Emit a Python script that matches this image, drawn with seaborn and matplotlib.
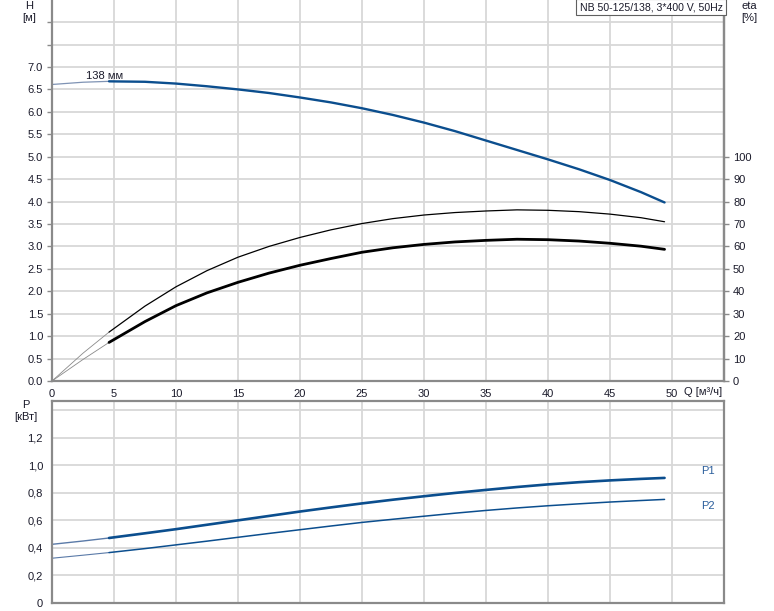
import numpy as np
import pandas as pd
import matplotlib
matplotlib.use("Agg")
import matplotlib.pyplot as plt
import seaborn as sns

# ---- data ----
q = [0, 2.5, 4.6, 7.5, 10, 12.5, 15, 17.5, 20, 22.5, 25, 27.5, 30, 32.5, 35,
     37.5, 40, 42.5, 45, 47.5, 49.4]
head = [6.61, 6.66, 6.68, 6.67, 6.63, 6.57, 6.50, 6.42, 6.32, 6.21, 6.08, 5.93,
        5.76, 5.57, 5.36, 5.15, 4.94, 4.72, 4.48, 4.21, 3.98]
eta_pump = [0, 12.4, 21.8, 33.4, 42.0, 49.2, 55.2, 60.0, 64.0, 67.4, 70.2, 72.4,
            74.0, 75.1, 75.8, 76.3, 76.1, 75.5, 74.4, 72.8, 71.0]
eta_total = [0, 9.6, 17.2, 26.5, 33.6, 39.3, 44.0, 48.1, 51.6, 54.6, 57.4, 59.4,
             60.9, 62.0, 62.7, 63.2, 63.0, 62.4, 61.4, 60.1, 58.7]
p1 = [0.426, 0.450, 0.472, 0.506, 0.536, 0.568, 0.600, 0.632, 0.664, 0.694, 0.723,
      0.750, 0.775, 0.799, 0.821, 0.842, 0.861, 0.877, 0.890, 0.901, 0.908]
p2 = [0.325, 0.347, 0.366, 0.395, 0.422, 0.449, 0.477, 0.505, 0.532, 0.559, 0.585,
      0.608, 0.630, 0.652, 0.672, 0.690, 0.706, 0.720, 0.733, 0.744, 0.752]
q_start = 4.6  # start of the operating range (thick part)

h_ticks = [0.0, 0.5, 1.0, 1.5, 2.0, 2.5, 3.0, 3.5, 4.0, 4.5, 5.0, 5.5, 6.0, 6.5, 7.0, 7.5, 8.0]
h_labels = ["0.0", "0.5", "1.0", "1.5", "2.0", "2.5", "3.0", "3.5", "4.0", "4.5",
            "5.0", "5.5", "6.0", "6.5", "7.0", "", ""]
eta_ticks = [0, 10, 20, 30, 40, 50, 60, 70, 80, 90, 100]
p_ticks = [0, 0.2, 0.4, 0.6, 0.8, 1.0, 1.2, 1.4]
p_labels = ["0", "0,2", "0,4", "0,6", "0,8", "1,0", "1,2", ""]
q_ticks = [0, 5, 10, 15, 20, 25, 30, 35, 40, 45, 50]

title_text = "NB 50-125/138, 3*400 V, 50Hz"

# ---- styling ----
sns.set_style("white")
plt.rcParams["font.family"] = ["Liberation Sans", "DejaVu Sans"]
plt.rcParams["font.size"] = 8
plt.rcParams["lines.solid_joinstyle"] = "round"

W, H = 774, 611
SPINE = "#8a8a8a"
GRID = "#d8d8d8"
BLUE = "#0b4e8e"
TXT = "#1a1a2a"

df = pd.DataFrame({"Q": q, "H": head, "eta1": eta_pump, "eta2": eta_total,
                   "P1": p1, "P2": p2})
pre = df[df["Q"] <= q_start]
main = df[df["Q"] >= q_start]

fig = plt.figure(figsize=(W / 100, H / 100), dpi=100)

def fx(x):
    return x / W

def fy(y):
    return 1 - y / H

ax1 = fig.add_axes([fx(52), fy(381), (724 - 52) / W, 381 / H])
ax2 = fig.add_axes([fx(52), fy(603), (724 - 52) / W, (603 - 401) / H])

xmax = (724 - 52) / 12.4
ax1.set_xlim(0, xmax)
ax1.set_ylim(0, 381 / 44.86)
ax2.set_xlim(0, xmax)
ax2.set_ylim(0, (603 - 401) / 137.75)

for ax in (ax1, ax2):
    ax.set_xticks(q_ticks)
    ax.grid(True, color=GRID, linewidth=1.3)
    ax.set_axisbelow(True)
    for s in ax.spines.values():
        s.set_color(SPINE)
        s.set_linewidth(1.6)
    ax.tick_params(axis="both", colors=SPINE, labelcolor=TXT, length=3.5,
                   width=1.0, labelsize=8, pad=3)

ax1.spines["top"].set_visible(False)
ax1.set_yticks(h_ticks)
ax1.set_yticklabels(h_labels)
ax1.set_xticklabels([str(v) for v in q_ticks])
ax1.tick_params(axis="x", pad=2)

ax2.set_yticks(p_ticks)
ax2.set_yticklabels(p_labels)
ax2.set_xticklabels([])
ax2.tick_params(axis="x", length=0)

# eta axis
axe = ax1.twinx()
axe.set_position(ax1.get_position())
axe.set_ylim(0, 20 * 381 / 44.86)
axe.set_yticks(eta_ticks)
axe.set_yticklabels([str(v) for v in eta_ticks])
for s in axe.spines.values():
    s.set_visible(False)
axe.spines["right"].set_visible(True)
axe.spines["right"].set_color(SPINE)
axe.spines["right"].set_linewidth(1.6)
axe.tick_params(axis="y", colors=SPINE, labelcolor=TXT, length=3.5, width=1.0,
                labelsize=8, pad=3)
axe.set_xlim(0, xmax)

# ---- curves ----
kw = dict(sort=False, estimator=None, legend=False)
sns.lineplot(data=pre, x="Q", y="H", ax=ax1, color="#7f93b4", linewidth=0.9, **kw)
sns.lineplot(data=main, x="Q", y="H", ax=ax1, color=BLUE, linewidth=1.7, **kw)

sns.lineplot(data=pre, x="Q", y="eta1", ax=axe, color="#8a8a8a", linewidth=0.6, **kw)
sns.lineplot(data=main, x="Q", y="eta1", ax=axe, color="black", linewidth=0.9, **kw)
sns.lineplot(data=pre, x="Q", y="eta2", ax=axe, color="#8a8a8a", linewidth=0.6, **kw)
sns.lineplot(data=main, x="Q", y="eta2", ax=axe, color="black", linewidth=2.0, **kw)

sns.lineplot(data=pre, x="Q", y="P1", ax=ax2, color="#5a7aa8", linewidth=1.0, **kw)
sns.lineplot(data=main, x="Q", y="P1", ax=ax2, color=BLUE, linewidth=1.9, **kw)
sns.lineplot(data=pre, x="Q", y="P2", ax=ax2, color="#5a7aa8", linewidth=0.8, **kw)
sns.lineplot(data=main, x="Q", y="P2", ax=ax2, color=BLUE, linewidth=1.1, **kw)

for ax in (ax1, ax2, axe):
    ax.set_xlabel("")
    ax.set_ylabel("")

# ---- texts ----
fig.text(fx(29), fy(6), "H", ha="center", va="center", color=TXT, fontsize=8)
fig.text(fx(29), fy(18), "[м]", ha="center", va="center", color=TXT, fontsize=8)
fig.text(fx(749), fy(6), "eta", ha="center", va="center", color=TXT, fontsize=8)
fig.text(fx(749), fy(18), "[%]", ha="center", va="center", color=TXT, fontsize=8)
fig.text(fx(26), fy(405), "P", ha="center", va="center", color=TXT, fontsize=8)
fig.text(fx(26), fy(417), "[кВт]", ha="center", va="center", color=TXT, fontsize=8)
fig.text(fx(703), fy(392), "Q [м³/ч]", ha="center", va="center", color=TXT, fontsize=8)
fig.text(fx(651), fy(7), title_text, ha="center", va="center", color=TXT, fontsize=7.6,
         bbox=dict(boxstyle="square,pad=0.3", facecolor="white", edgecolor="#606060",
                   linewidth=0.8))

ax1.text(4.27, 6.81, "138 мм", ha="center", va="center", color=TXT, fontsize=8)
ax2.text(52.9, 0.958, "P1", ha="center", va="center", color="#2b5e9c", fontsize=8)
ax2.text(52.9, 0.704, "P2", ha="center", va="center", color="#2b5e9c", fontsize=8)

fig.savefig("out.png", dpi=100)
